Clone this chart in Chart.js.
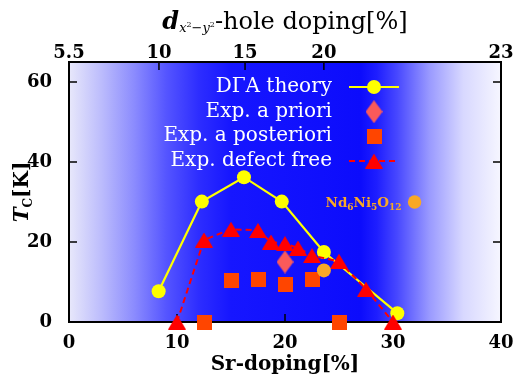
<!DOCTYPE html>
<html>
<head>
<meta charset="utf-8">
<script src="https://cdn.jsdelivr.net/npm/chart.js@4.4.0/dist/chart.umd.min.js"></script>
<style>
  html, body { margin: 0; padding: 0; background: #fff; }
  #wrap { width: 515px; height: 377px; }
</style>
</head>
<body>
<div id="wrap"><canvas id="tcChart" width="515" height="377"></canvas></div>
<script>
"use strict";

// x = Sr-doping [%], y = Tc [K]
const theorySr = [8.3, 12.3, 16.2, 19.7, 23.6, 30.4];
const theoryTc = [7.7, 30.1, 36.2, 30.1, 17.5, 2.2];
const prioriSr = [20.0];
const prioriTc = [15.0];
const posterioriSr = [12.5, 15.0, 17.5, 20.0, 22.5, 25.0];
const posterioriTc = [0, 10.3, 10.6, 9.3, 10.6, 0];
const defectFreeSr = [10.0, 12.5, 15.0, 17.5, 18.7, 20.0, 21.2, 22.5, 25.0, 27.5, 30.0];
const defectFreeTc = [0, 20.5, 23.2, 22.9, 20.0, 19.6, 18.5, 16.6, 15.2, 8.2, 0];
const ndSr = [23.6];
const ndTc = [12.9];
const ndKeySr = 32.0;
const ndKeyTc = 30.0;

const bottomTicks = [0, 10, 20, 30, 40];
const leftTicks = [0, 20, 40, 60];
// top axis: d(x2-y2) hole doping, placed at the matching Sr-doping
const topTickSr = [0, 8.33, 16.3, 23.6, 40];
const topTickLabels = ['5.5', '10', '15', '20', '23'];

const serif = "'DejaVu Serif', 'Liberation Serif', serif";
const tickFont = { family: serif, size: 18, weight: 'bold' };

// background shading along Sr-doping
const bgStops = [
    [0, 'rgb(232,232,251)'], [3, 'rgb(188,188,252)'], [6, 'rgb(140,140,254)'],
    [9, 'rgb(85,85,255)'], [12, 'rgb(45,45,255)'], [15, 'rgb(22,22,255)'],
    [27, 'rgb(12,12,252)'], [28.5, 'rgb(30,30,255)'], [30.4, 'rgb(72,72,255)'],
    [33.4, 'rgb(154,154,255)'], [36.5, 'rgb(216,216,255)'], [40, 'rgb(246,246,255)']
];

const pts = (xs, ys) => xs.map((x, i) => ({ x: x, y: ys[i] }));

function makeMarker(w, h, color, shape) {
    const c = document.createElement('canvas');
    c.width = w; c.height = h;
    const g = c.getContext('2d');
    g.fillStyle = color;
    g.beginPath();
    shape(g, w, h);
    g.closePath();
    g.fill();
    return c;
}
const triMarker = makeMarker(18, 15, '#ff0000', (g, w, h) => { g.moveTo(w / 2, 0); g.lineTo(w, h); g.lineTo(0, h); });
const diamondMarker = makeMarker(17, 23, '#fa5a5a', (g, w, h) => { g.moveTo(w / 2, 0); g.lineTo(w, h / 2); g.lineTo(w / 2, h); g.lineTo(0, h / 2); });
const squareMarker = makeMarker(15, 15, '#ff4500', (g, w, h) => { g.rect(0, 0, w, h); });

// draw a row of text pieces (for sub/superscripts)
function drawRuns(ctx, runs, x, y, align) {
    let total = 0;
    runs.forEach(r => { ctx.font = r.font; r.w = ctx.measureText(r.text).width; total += r.w; });
    let cx = align === 'center' ? x - total / 2 : (align === 'right' ? x - total : x);
    ctx.textAlign = 'left';
    ctx.textBaseline = 'alphabetic';
    runs.forEach(r => { ctx.font = r.font; ctx.fillText(r.text, cx, y + (r.dy || 0)); cx += r.w; });
}

const backdrop = {
    id: 'backdrop',
    beforeDatasetsDraw(chart) {
        const { ctx, chartArea: a, scales } = chart;
        const xs = scales.x, ys = scales.y;
        ctx.save();
        const grad = ctx.createLinearGradient(a.left, 0, a.right, 0);
        bgStops.forEach(([v, c]) => grad.addColorStop((xs.getPixelForValue(v) - a.left) / (a.right - a.left), c));
        ctx.fillStyle = grad;
        ctx.fillRect(a.left, a.top, a.right - a.left, a.bottom - a.top);

        // inward ticks
        ctx.strokeStyle = '#000';
        ctx.lineWidth = 1.5;
        ctx.beginPath();
        const tl = 8;
        bottomTicks.slice(1, -1).forEach(v => { const p = xs.getPixelForValue(v); ctx.moveTo(p, a.bottom); ctx.lineTo(p, a.bottom - tl); });
        topTickSr.slice(1, -1).forEach(v => { const p = xs.getPixelForValue(v); ctx.moveTo(p, a.top); ctx.lineTo(p, a.top + tl); });
        leftTicks.slice(1).forEach(v => {
            const p = ys.getPixelForValue(v);
            ctx.moveTo(a.left, p); ctx.lineTo(a.left + tl, p);
            ctx.moveTo(a.right, p); ctx.lineTo(a.right - tl, p);
        });
        ctx.stroke();

        ctx.lineWidth = 2;
        ctx.strokeRect(a.left, a.top, a.right - a.left, a.bottom - a.top);
        ctx.restore();
    }
};

const annotations = {
    id: 'annotations',
    afterDatasetsDraw(chart) {
        const { ctx, chartArea: a, scales } = chart;
        ctx.save();

        // legend, text right aligned and key on the right
        const textRight = a.left + 263, keyX = a.left + 305;
        [0, 1, 2, 3].forEach((di, row) => {
            const ds = chart.data.datasets[di];
            const base = a.top + 30 + row * 24.7;
            const ky = base - 5;
            ctx.fillStyle = '#fff';
            ctx.font = '20px ' + serif;
            ctx.textAlign = 'right';
            ctx.textBaseline = 'alphabetic';
            ctx.fillText(ds.label, textRight, base);
            if (ds.showLine) {
                ctx.strokeStyle = ds.borderColor;
                ctx.lineWidth = ds.borderWidth;
                ctx.setLineDash(ds.borderDash || []);
                ctx.beginPath();
                ctx.moveTo(keyX - 25, ky); ctx.lineTo(keyX + 25, ky);
                ctx.stroke();
                ctx.setLineDash([]);
            }
            if (ds.pointStyle === 'circle') {
                ctx.fillStyle = ds.pointBackgroundColor;
                ctx.beginPath(); ctx.arc(keyX, ky, ds.pointRadius, 0, Math.PI * 2); ctx.fill();
            } else {
                const img = ds.pointStyle;
                ctx.drawImage(img, keyX - img.width / 2, ky - img.height / 2);
            }
        });

        // Nd6Ni5O12 key
        const nx = scales.x.getPixelForValue(ndKeySr), ny = scales.y.getPixelForValue(ndKeyTc);
        ctx.fillStyle = '#f9a825';
        ctx.beginPath(); ctx.arc(nx, ny, 6.7, 0, Math.PI * 2); ctx.fill();
        const big = 'bold 13.5px ' + serif, small = 'bold 9px ' + serif;
        drawRuns(ctx, [
            { text: 'Nd', font: big }, { text: '6', font: small, dy: 3 },
            { text: 'Ni', font: big }, { text: '5', font: small, dy: 3 },
            { text: 'O', font: big }, { text: '12', font: small, dy: 3 }
        ], nx - 13, ny + 5, 'right');

        // top axis title
        ctx.fillStyle = '#000';
        const cx = (a.left + a.right) / 2;
        const mainF = '24px ' + serif, subF = 'italic 13px ' + serif, supF = '8px ' + serif;
        drawRuns(ctx, [
            { text: 'd', font: 'italic bold 24px ' + serif },
            { text: 'x', font: subF, dy: 3 }, { text: '2', font: supF, dy: -2 },
            { text: '\u2212', font: '13px ' + serif, dy: 3 },
            { text: 'y', font: subF, dy: 3 }, { text: '2', font: supF, dy: -2 },
            { text: '-hole doping[%]', font: mainF }
        ], cx, 29, 'center');

        // left axis title
        ctx.save();
        ctx.translate(28, (a.top + a.bottom) / 2);
        ctx.rotate(-Math.PI / 2);
        drawRuns(ctx, [
            { text: 'T', font: 'italic bold 20px ' + serif },
            { text: 'C', font: 'bold 12px ' + serif, dy: 4 },
            { text: '[K]', font: 'bold 20px ' + serif }
        ], 0, 0, 'center');
        ctx.restore();

        ctx.restore();
    }
};

const ctx = document.getElementById('tcChart').getContext('2d');
const tcChart = new Chart(ctx, {
    type: 'scatter',
    data: {
        datasets: [
            { label: 'D\u0393A theory', data: pts(theorySr, theoryTc), showLine: true, borderColor: '#ffff00', borderWidth: 2.2,
              pointStyle: 'circle', pointRadius: 7, pointBackgroundColor: '#ffff00', pointBorderWidth: 0, order: 5, clip: false },
            { label: 'Exp. a priori', data: pts(prioriSr, prioriTc), pointStyle: diamondMarker, pointRadius: 8, order: 2, clip: false },
            { label: 'Exp. a posteriori', data: pts(posterioriSr, posterioriTc), pointStyle: squareMarker, pointRadius: 8, order: 3, clip: false },
            { label: 'Exp. defect free', data: pts(defectFreeSr, defectFreeTc), showLine: true, borderColor: '#ff0000', borderWidth: 2,
              borderDash: [6, 4], pointStyle: triMarker, pointRadius: 8, order: 4, clip: false },
            { label: 'Nd6Ni5O12', data: pts(ndSr, ndTc), pointStyle: 'circle', pointRadius: 7, pointBackgroundColor: '#f9a825',
              pointBorderWidth: 0, order: 1, clip: false }
        ]
    },
    options: {
        responsive: false,
        animation: false,
        events: [],
        devicePixelRatio: 1,
        layout: { padding: { left: 0, right: 14, top: 0, bottom: 0 } },
        plugins: { legend: { display: false }, tooltip: { enabled: false } },
        scales: {
            x: {
                type: 'linear', position: 'bottom', min: 0, max: 40,
                afterBuildTicks: s => { s.ticks = bottomTicks.map(v => ({ value: v })); },
                ticks: { font: tickFont, color: '#000', padding: 11, maxRotation: 0, autoSkip: false },
                grid: { display: false, drawTicks: false }, border: { display: false },
                title: { display: true, text: 'Sr-doping[%]', color: '#000', font: { family: serif, size: 20, weight: 'bold' }, padding: { top: 0, bottom: 0 } },
                afterFit: s => { s.height = 55; s.paddingLeft = 0; s.paddingRight = 0; }
            },
            xTop: {
                type: 'linear', position: 'top', min: 0, max: 40,
                afterBuildTicks: s => { s.ticks = topTickSr.map(v => ({ value: v })); },
                ticks: { font: tickFont, color: '#000', padding: -2, maxRotation: 0, autoSkip: false, callback: (v, i) => topTickLabels[i] },
                grid: { display: false, drawTicks: false }, border: { display: false },
                afterFit: s => { s.height = 62; s.paddingLeft = 0; s.paddingRight = 0; }
            },
            y: {
                type: 'linear', position: 'left', min: 0, max: 65,
                afterBuildTicks: s => { s.ticks = leftTicks.map(v => ({ value: v })); },
                ticks: { font: tickFont, color: '#000', padding: 17, autoSkip: false },
                grid: { display: false, drawTicks: false }, border: { display: false },
                afterFit: s => { s.width = 69; s.paddingTop = 0; s.paddingBottom = 0; }
            }
        }
    },
    plugins: [backdrop, annotations]
});
</script>
</body>
</html>
